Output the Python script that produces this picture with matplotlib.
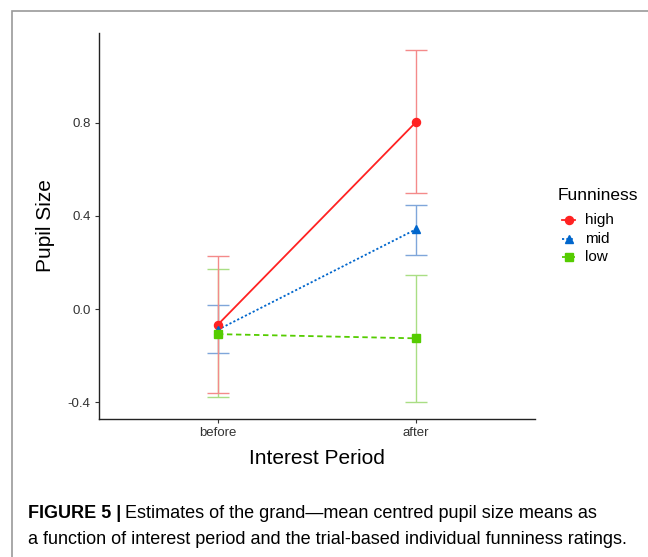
"""
Pupil size by interest period and funniness (ggplot-style interaction plot).
"""
import matplotlib
matplotlib.use("Agg")
import matplotlib.pyplot as plt
from matplotlib.patches import Rectangle

plt.rcParams["font.family"] = ["Liberation Sans", "DejaVu Sans"]

periods = ["before", "after"]
groups = ["high", "mid", "low"]
means = {"high": [-0.066, 0.803], "mid": [-0.088, 0.343], "low": [-0.107, -0.125]}
upper = {"high": [0.229, 1.111], "mid": [0.020, 0.448], "low": [0.171, 0.148]}
lower = {"high": [-0.361, 0.497], "mid": [-0.190, 0.232], "low": [-0.377, -0.396]}
y_ticks = [-0.4, 0.0, 0.4, 0.8]

colors = {"high": "#FF2222", "mid": "#0066CC", "low": "#55CC00"}
err_colors = {"high": "#F48A8A", "mid": "#7FA6DA", "low": "#A9DE84"}
markers = {"high": "o", "mid": "^", "low": "s"}
styles = {"high": "-", "mid": (0, (1.2, 1.2)), "low": (0, (3, 2))}

W, H = 648, 557
fig = plt.figure(figsize=(W / 100, H / 100), dpi=100)

# grey frame around the figure panel
fig.patches.append(Rectangle((12 / W, -0.1), 1.2, 1 - 11 / H + 0.1, transform=fig.transFigure,
                             fill=False, edgecolor="#9a9a9a", linewidth=1.2))

ax = fig.add_axes([99 / W, 1 - 419 / H, (535 - 99) / W, (419 - 32.7) / H])
x = [1, 2]

# error bars: low first so the red one ends up on top (as in the original)
for g in reversed(groups):
    yerr = [[m - lo for m, lo in zip(means[g], lower[g])],
            [up - m for m, up in zip(means[g], upper[g])]]
    ax.errorbar(x, means[g], yerr=yerr, fmt="none", ecolor=err_colors[g],
                elinewidth=1.0, capsize=7.7, capthick=1.0, zorder=2)
for g in groups:
    ax.plot(x, means[g], color=colors[g], linestyle=styles[g], linewidth=1.3, zorder=3)
    ax.plot(x, means[g], color=colors[g], marker=markers[g], markersize=5.8,
            linestyle="none", zorder=4)

ax.set_xlim(0.4, 2.6)
ax.set_ylim(-0.471, 1.186)
ax.set_xticks(x)
ax.set_xticklabels(periods)
ax.set_yticks(y_ticks)
ax.set_yticklabels([f"{v:.1f}" for v in y_ticks])
ax.tick_params(labelsize=9.5, colors="#333333", length=3, width=0.8, pad=3)
for side in ("top", "right"):
    ax.spines[side].set_visible(False)
for side in ("left", "bottom"):
    ax.spines[side].set_linewidth(1.0)
    ax.spines[side].set_color("#222222")

ax.set_xlabel("Interest Period", fontsize=15, labelpad=7)
ax.set_ylabel("Pupil Size", fontsize=15, labelpad=9)

# legend
fig.text(558 / W, 1 - 195 / H, "Funniness", fontsize=12.5, va="center", ha="left")
for i, g in enumerate(groups):
    yy = 1 - (220 + 18.7 * i) / H
    fig.add_artist(plt.Line2D([562 / W, 575 / W], [yy, yy], transform=fig.transFigure,
                              color=colors[g], linestyle=styles[g], linewidth=1.3))
    fig.add_artist(plt.Line2D([568.5 / W], [yy], transform=fig.transFigure,
                              color=colors[g], marker=markers[g], markersize=5.8))
    fig.text(585 / W, yy, g, fontsize=11, va="center", ha="left")

# caption
cap_font = ["Liberation Sans", "DejaVu Sans"]
bold = fig.text(28 / W, 1 - 514 / H, "FIGURE 5 |", fontsize=13, fontweight="bold",
                family=cap_font, va="center", ha="left")
fig.canvas.draw()
bb = bold.get_window_extent()
fig.text((bb.x1 + 4) / W, 1 - 514 / H, "Estimates of the grand\u2014mean centred pupil size means as",
         fontsize=13, family=cap_font, va="center", ha="left")
fig.text(28 / W, 1 - 539 / H,
         "a function of interest period and the trial-based individual funniness ratings.",
         fontsize=13, family=cap_font, va="center", ha="left")

fig.savefig("out.png", dpi=100)
